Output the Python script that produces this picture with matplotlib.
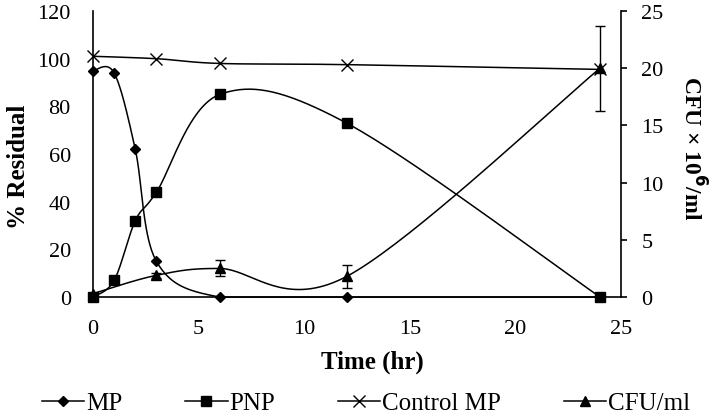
import numpy as np
import matplotlib.pyplot as plt
from matplotlib.lines import Line2D

plt.rcParams['font.family'] = ['Liberation Serif', 'DejaVu Serif']

# data
t_mp = [0, 1, 2, 3, 6, 12, 24]
mp = [95, 94, 62, 15, 0, 0, 0]
t_pnp = [0, 1, 2, 3, 6, 12, 24]
pnp = [0, 7, 32, 44, 85, 73, 0]
t_ctrl = [0, 3, 6, 12, 24]
ctrl = [101, 100, 98, 97.5, 95.5]
t_cfu = [0, 3, 6, 12, 24]
cfu = [0.3, 1.9, 2.5, 1.8, 20.0]
cfu_err = [0.0, 0.2, 0.7, 1.0, 3.7]


def smooth(x, y, n=40):
    # Excel-style smoothed line: bezier segments with catmull-rom control points
    p = np.column_stack([x, y]).astype(float)
    out = []
    for i in range(len(p) - 1):
        p0 = p[i - 1] if i > 0 else p[i]
        p1 = p[i]
        p2 = p[i + 1]
        p3 = p[i + 2] if i + 2 < len(p) else p[i + 1]
        c1 = p1 + (p2 - p0) / 6
        c2 = p2 - (p3 - p1) / 6
        s = np.linspace(0, 1, n)[:, None]
        seg = (1 - s) ** 3 * p1 + 3 * (1 - s) ** 2 * s * c1 + 3 * (1 - s) * s ** 2 * c2 + s ** 3 * p2
        out.append(seg)
    out = np.vstack(out)
    # keep the curve from sinking below the lowest reading
    return out[:, 0], np.maximum(out[:, 1], min(y))


fig = plt.figure(figsize=(7.09, 4.14), dpi=100)
ax = fig.add_axes([0.1312, 0.28, 0.745, 0.691])
ax2 = ax.twinx()

lw = 1.1
for x, y, mk, ms in [(t_mp, mp, 'D', 5), (t_pnp, pnp, 's', 7),
                     (t_ctrl, ctrl, 'x', 8.5)]:
    sx, sy = smooth(x, y)
    ax.plot(sx, sy, color='black', lw=lw, zorder=3, clip_on=False)
    ax.plot(x, y, ls='none', marker=mk, ms=ms, color='black', mew=1.0,
            zorder=4, clip_on=False)

sx, sy = smooth(t_cfu, cfu)
ax2.plot(sx, sy, color='black', lw=lw, zorder=3, clip_on=False)
eb = ax2.errorbar(t_cfu, cfu, yerr=cfu_err, ls='none', marker='^', ms=6.5,
                  color='black', capsize=3.5, elinewidth=1.0, capthick=1.0,
                  zorder=4)
eb.lines[0].set_clip_on(False)

ax.set_xlim(0, 25)
ax.set_ylim(0, 120)
ax2.set_ylim(0, 25)
ax.set_xticks([0, 5, 10, 15, 20, 25])
ax.set_yticks([0, 20, 40, 60, 80, 100, 120])
ax2.set_yticks([0, 5, 10, 15, 20, 25])

ax.spines['top'].set_visible(False)
ax2.spines['top'].set_visible(False)
ax.spines['right'].set_visible(False)
for s in ['left', 'bottom']:
    ax.spines[s].set_linewidth(1.2)
ax2.spines['right'].set_linewidth(1.2)
ax2.spines['left'].set_visible(False)
ax2.spines['bottom'].set_visible(False)

ax.tick_params(axis='both', length=0, labelsize=16)
ax.tick_params(axis='x', pad=16)
ax.tick_params(axis='y', pad=16)
ax2.tick_params(axis='y', length=4.5, width=1.2, labelsize=16, pad=10)

fig.text(372 / 709, 1 - 362 / 414, 'Time (hr)', fontsize=18,
         fontweight='bold', ha='center', va='center')
fig.text(19 / 709, 1 - 167 / 414, '% Residual', fontsize=18,
         fontweight='bold', ha='center', va='center', rotation=90)
fig.text(692 / 709, 1 - 148 / 414, 'CFU × 10$^{\\mathbf{6}}$/ml', fontsize=17,
         fontweight='bold', ha='center', va='center', rotation=270)

handles = [
    Line2D([], [], color='black', lw=lw, marker='D', ms=5),
    Line2D([], [], color='black', lw=lw, marker='s', ms=7),
    Line2D([], [], color='black', lw=lw, marker='x', ms=8.5),
    Line2D([], [], color='black', lw=lw, marker='^', ms=6.5),
]
fig.legend(handles, ['MP', 'PNP', 'Control MP', 'CFU/ml'], loc='center',
           bbox_to_anchor=(366 / 709, 1 - 404 / 414), ncol=4, frameon=False,
           fontsize=18, handlelength=1.7, handletextpad=0.08,
           columnspacing=2.5, borderpad=0)

fig.savefig('out.png', dpi=100)
